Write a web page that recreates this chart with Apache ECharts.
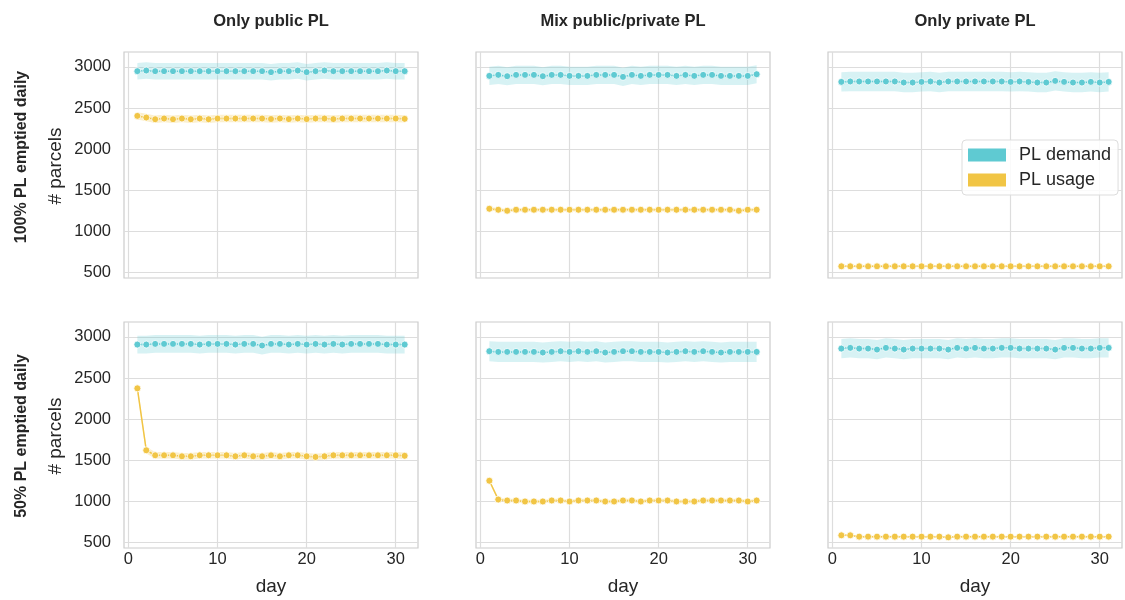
<!DOCTYPE html>
<html>
<head>
<meta charset="utf-8">
<script src="https://cdn.jsdelivr.net/npm/echarts@6/dist/echarts.min.js"></script>
<style>
  html, body { margin: 0; padding: 0; background: #ffffff; }
  #chart { width: 1125px; height: 600px; }
</style>
</head>
<body>
<div id="chart"></div>
<script>
// Day index shared by every panel
const days = [1,2,3,4,5,6,7,8,9,10,11,12,13,14,15,16,17,18,19,20,21,22,23,24,25,26,27,28,29,30,31];

// Column and row headings
const columnTitles = ['Only public PL', 'Mix public/private PL', 'Only private PL'];
const rowTitles = ['100% PL emptied daily', '50% PL emptied daily'];
const seriesNames = ['PL demand', 'PL usage'];

// Axis ticks
const xTicks = [0, 10, 20, 30];
const yTicks = [500, 1000, 1500, 2000, 2500, 3000];

// Mean daily parcels, 100% PL emptied daily
const publicFullDemand = [2947,2955,2947,2947,2947,2947,2947,2947,2947,2947,2947,2947,2947,2947,2947,2935,2947,2947,2955,2935,2947,2955,2947,2947,2947,2947,2947,2947,2955,2947,2947];
const publicFullUsage  = [2404,2384,2363,2372,2363,2372,2363,2372,2363,2372,2372,2372,2372,2372,2372,2366,2372,2365,2372,2365,2372,2372,2365,2372,2372,2372,2372,2372,2372,2372,2368];
const mixFullDemand    = [2890,2902,2886,2902,2902,2902,2886,2902,2902,2890,2890,2890,2902,2902,2902,2878,2902,2890,2902,2902,2902,2890,2902,2890,2902,2902,2890,2890,2890,2890,2910];
const mixFullUsage     = [1276,1264,1252,1264,1264,1264,1264,1264,1264,1264,1264,1264,1264,1264,1264,1264,1264,1264,1264,1264,1264,1264,1264,1264,1264,1264,1264,1264,1252,1264,1264];
const privFullDemand   = [2817,2822,2822,2822,2822,2822,2822,2809,2809,2817,2822,2809,2822,2822,2822,2822,2822,2822,2822,2817,2822,2817,2809,2809,2829,2817,2809,2809,2817,2809,2817];
const privFullUsage    = [577,577,577,577,577,577,577,577,577,577,577,577,577,577,577,577,577,577,577,577,577,577,577,577,577,577,577,577,577,577,577];

// Mean daily parcels, 50% PL emptied daily
const publicHalfDemand = [2906,2906,2914,2914,2914,2914,2914,2906,2914,2914,2914,2906,2914,2914,2894,2914,2914,2906,2914,2906,2914,2906,2914,2906,2914,2914,2914,2914,2906,2906,2906];
const publicHalfUsage  = [2374,1622,1561,1561,1561,1549,1549,1561,1561,1561,1561,1549,1561,1549,1549,1561,1549,1561,1561,1549,1541,1549,1561,1561,1561,1561,1561,1561,1561,1561,1555];
const mixHalfDemand    = [2825,2817,2817,2817,2817,2817,2809,2817,2825,2817,2825,2817,2825,2809,2817,2825,2825,2817,2817,2817,2809,2817,2825,2817,2825,2817,2809,2817,2817,2817,2817];
const mixHalfUsage     = [1252,1024,1012,1012,1000,1000,1000,1012,1012,1000,1012,1012,1012,1000,1000,1012,1012,1000,1012,1012,1012,1000,1000,1000,1012,1012,1012,1012,1012,1000,1012];
const privHalfDemand   = [2857,2866,2857,2857,2845,2866,2857,2845,2857,2857,2857,2857,2845,2866,2857,2866,2857,2857,2866,2866,2857,2857,2857,2857,2845,2866,2866,2857,2857,2866,2866];
const privHalfUsage    = [589,589,573,573,573,573,573,573,573,573,573,573,565,573,573,573,573,573,573,573,573,573,573,573,573,573,573,573,573,573,573];

// Half-width of the 95% confidence band, per panel (row-major)
const demandBand = [100, 110, 118, 108, 122, 116];
const usageBand  = [45, 22, 12, 40, 20, 12];

const demandByPanel = [publicFullDemand, mixFullDemand, privFullDemand, publicHalfDemand, mixHalfDemand, privHalfDemand];
const usageByPanel  = [publicFullUsage, mixFullUsage, privFullUsage, publicHalfUsage, mixHalfUsage, privHalfUsage];

const demandColor = '#5fcad2';
const usageColor = '#f1c545';
const demandFill = 'rgba(95,202,210,0.25)';
const usageFill = 'rgba(241,197,69,0.27)';
const font = 'Liberation Sans, Arial, sans-serif';
const textColor = '#262626';

const colLeft = [124, 476, 828];
const colWidth = 294;
const rowTop = [52, 322];
const rowHeight = 226;

const grids = [], xAxes = [], yAxes = [], series = [], graphics = [];

// Draws a whole confidence band as one polygon from [day, low, high] rows
function renderBand(params, api) {
  if (params.dataIndexInside !== 0) return null;
  const n = params.dataInsideLength;
  const upper = [], lower = [];
  for (let j = 0; j < n; j++) {
    const d = api.value(0, j);
    lower.push(api.coord([d, api.value(1, j)]));
    upper.push(api.coord([d, api.value(2, j)]));
  }
  return {
    type: 'polygon',
    shape: { points: lower.concat(upper.reverse()) },
    style: { fill: api.visual('color') },
    silent: true
  };
}

for (let r = 0; r < 2; r++) {
  for (let c = 0; c < 3; c++) {
    const i = r * 3 + c;
    grids.push({
      left: colLeft[c], top: rowTop[r], width: colWidth, height: rowHeight,
      show: true, borderColor: '#cccccc', borderWidth: 1.2, backgroundColor: '#ffffff',
      containLabel: false
    });
    xAxes.push({
      type: 'value', gridIndex: i, min: -0.5, max: 32.5,
      axisLine: { show: false }, axisTick: { show: false, customValues: xTicks },
      axisLabel: { show: r === 1, customValues: xTicks, margin: 3, fontSize: 16.5, fontFamily: font, color: textColor },
      splitLine: { show: true, lineStyle: { color: '#dddddd', width: 1.2 } }
    });
    yAxes.push({
      type: 'value', gridIndex: i, min: 435, max: 3180,
      axisLine: { show: false }, axisTick: { show: false, customValues: yTicks },
      axisLabel: { show: c === 0, customValues: yTicks, margin: 13, fontSize: 16.5, fontFamily: font, color: textColor,
        formatter: (v) => String(v) },
      splitLine: { show: true, lineStyle: { color: '#dddddd', width: 1.2 } }
    });

    const groups = [
      { name: seriesNames[0], vals: demandByPanel[i], half: demandBand[i], color: demandColor, fill: demandFill },
      { name: seriesNames[1], vals: usageByPanel[i], half: usageBand[i], color: usageColor, fill: usageFill }
    ];
    groups.forEach((g) => {
      series.push({
        type: 'custom', xAxisIndex: i, yAxisIndex: i, silent: true, z: 1,
        renderItem: renderBand, itemStyle: { color: g.fill },
        encode: { x: 0, y: [1, 2] },
        data: days.map((d, j) => [d, g.vals[j] - g.half, g.vals[j] + g.half])
      });
    });
    groups.forEach((g) => {
      series.push({
        name: g.name, type: 'line', xAxisIndex: i, yAxisIndex: i, z: 3,
        symbol: 'circle', symbolSize: 7, showSymbol: true,
        itemStyle: { color: g.color, borderColor: '#ffffff', borderWidth: 0.8 },
        lineStyle: { color: g.color, width: 1.5 },
        data: days.map((d, j) => [d, g.vals[j]])
      });
    });
  }
}

// Column headings and x-axis names
for (let c = 0; c < 3; c++) {
  graphics.push({
    type: 'text', x: colLeft[c] + colWidth / 2, y: 21,
    style: { text: columnTitles[c], font: 'bold 16.5px ' + font, fill: textColor, textAlign: 'center', textVerticalAlign: 'middle' }
  });
  graphics.push({
    type: 'text', x: colLeft[c] + colWidth / 2, y: 587,
    style: { text: 'day', font: '19px ' + font, fill: textColor, textAlign: 'center', textVerticalAlign: 'middle' }
  });
}
// Row headings and y-axis names
const rowLabelY = [157, 436];
const yNameY = [166, 436];
for (let r = 0; r < 2; r++) {
  graphics.push({
    type: 'text', x: 22, y: rowLabelY[r], rotation: Math.PI / 2,
    style: { text: rowTitles[r], font: 'bold 16px ' + font, fill: textColor, textAlign: 'center', textVerticalAlign: 'middle' }
  });
  graphics.push({
    type: 'text', x: 56, y: yNameY[r], rotation: Math.PI / 2,
    style: { text: '# parcels', font: '19px ' + font, fill: textColor, textAlign: 'center', textVerticalAlign: 'middle' }
  });
}

const chart = echarts.init(document.getElementById('chart'), null, { renderer: 'canvas' });
chart.setOption({
  animation: false,
  backgroundColor: '#ffffff',
  grid: grids,
  xAxis: xAxes,
  yAxis: yAxes,
  legend: {
    orient: 'vertical', left: 962, top: 140,
    padding: [6, 7, 6, 6], itemGap: 7,
    itemWidth: 38, itemHeight: 13,
    backgroundColor: 'rgba(255,255,255,0.85)', borderColor: '#dddddd', borderWidth: 1, borderRadius: 4,
    textStyle: { fontSize: 18, fontFamily: font, color: textColor, lineHeight: 18, padding: [0, 0, 0, 8] },
    data: [
      { name: seriesNames[0], icon: 'rect', itemStyle: { color: demandColor, borderWidth: 0 } },
      { name: seriesNames[1], icon: 'rect', itemStyle: { color: usageColor, borderWidth: 0 } }
    ],
    selectedMode: false
  },
  graphic: graphics,
  series: series
});
</script>
</body>
</html>
